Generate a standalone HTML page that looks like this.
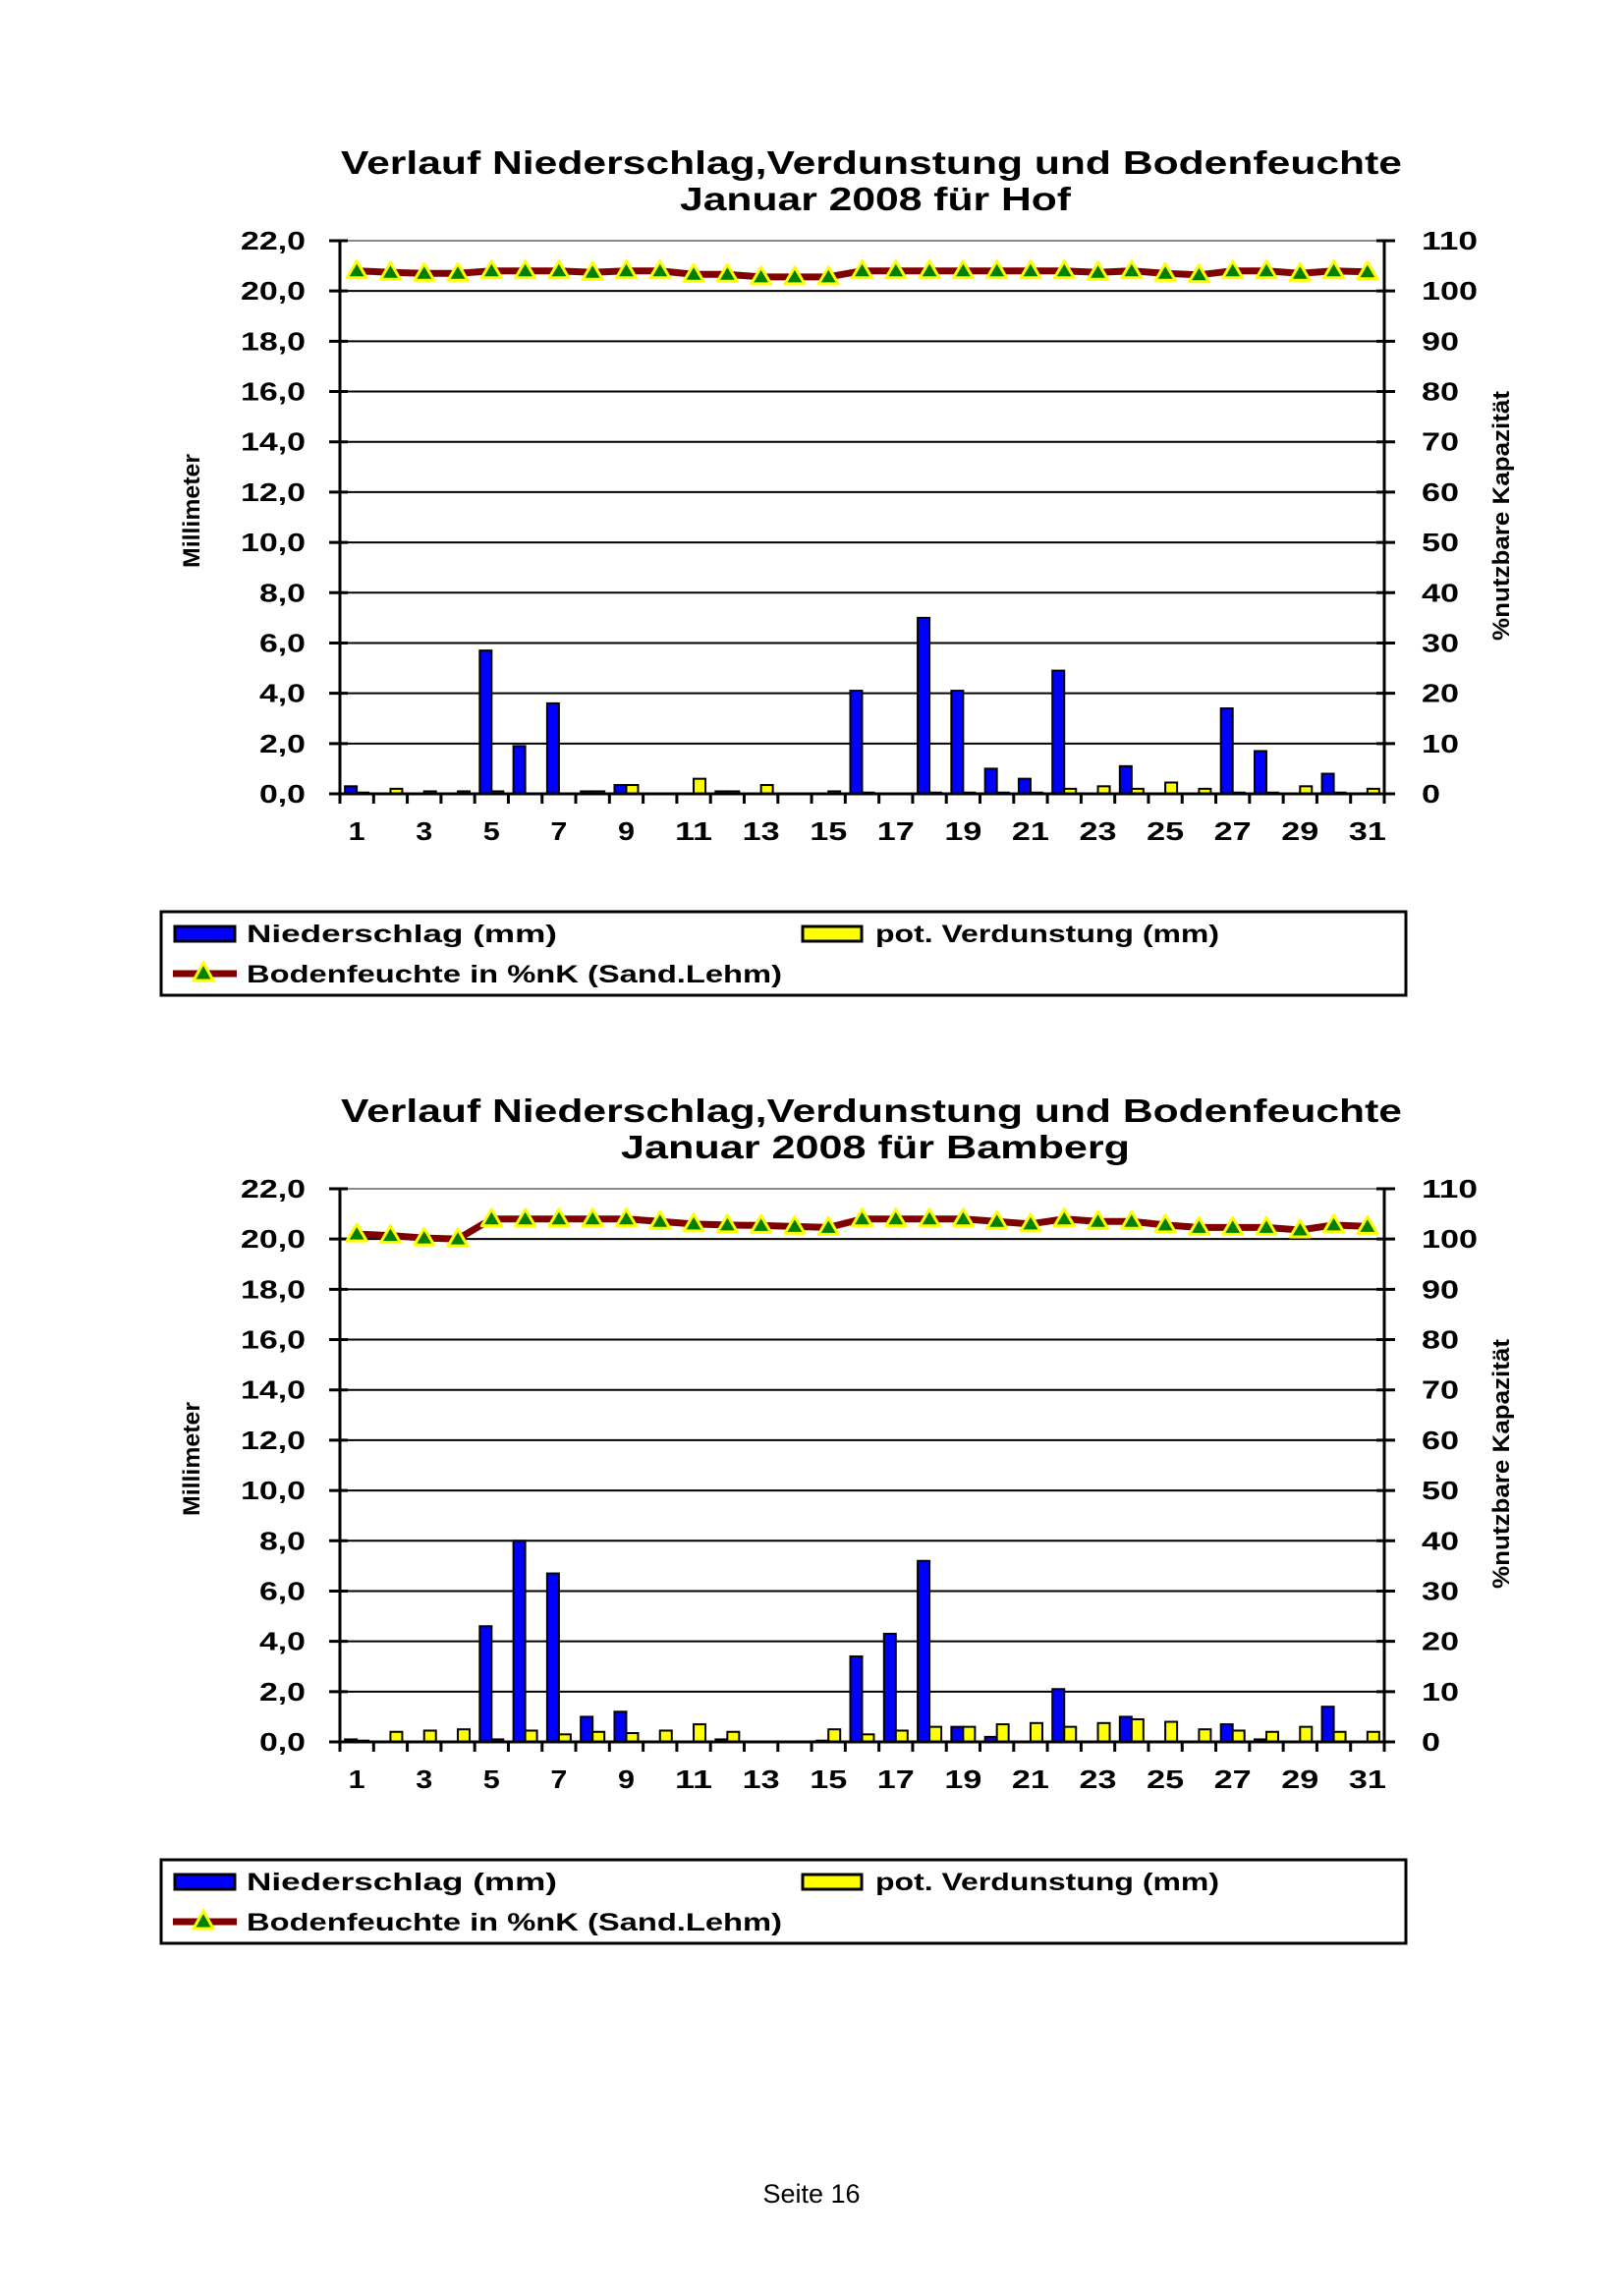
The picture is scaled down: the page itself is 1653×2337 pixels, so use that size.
<!DOCTYPE html>
<html><head><meta charset="utf-8"><style>
html,body{margin:0;padding:0;background:#fff;}
svg{display:block;}
text{font-family:"Liberation Sans",Arial,sans-serif;}
</style></head><body>
<svg id="s" width="1653" height="2337" xmlns="http://www.w3.org/2000/svg"></svg>
<script>
const S=document.getElementById('s');
let h='';
function chart(off,city,P,E,B,t2w){
  const L=346,R=1409,T=245+off,Bt=808+off;
  const H=Bt-T, cw=(R-L)/31;
  const yMM=v=>Bt-v/22*H, yP=v=>Bt-v/110*H;
  h+=`<text x="887" y="${177+off}" text-anchor="middle" font-size="33" font-weight="bold" textLength="1080" lengthAdjust="spacingAndGlyphs">Verlauf Niederschlag,Verdunstung und Bodenfeuchte</text>`;
  h+=`<text x="891" y="${214+off}" text-anchor="middle" font-size="33" font-weight="bold" textLength="${t2w}" lengthAdjust="spacingAndGlyphs">Januar 2008 für ${city}</text>`;
  h+=`<line x1="${L}" y1="${T}" x2="${R}" y2="${T}" stroke="#888" stroke-width="2"/>`;
  for(let i=0;i<=11;i++){
    const y=T+i*H/11;
    if(i>0&&i<11) h+=`<line x1="${L}" y1="${y}" x2="${R}" y2="${y}" stroke="#000" stroke-width="2"/>`;
    h+=`<line x1="${L-11}" y1="${y}" x2="${L+8}" y2="${y}" stroke="#000" stroke-width="3"/>`;
    h+=`<line x1="${R-8}" y1="${y}" x2="${R+11}" y2="${y}" stroke="#000" stroke-width="3"/>`;
    const v=(22-2*i).toFixed(1).replace('.',',');
    h+=`<text x="311" y="${y+9}" text-anchor="end" font-size="26" font-weight="bold" textLength="${v.length===4?66:47}" lengthAdjust="spacingAndGlyphs">${v}</text>`;
    const r=String(110-10*i);
    h+=`<text x="1447" y="${y+9}" font-size="26" font-weight="bold" textLength="${r.length*19}" lengthAdjust="spacingAndGlyphs">${r}</text>`;
  }
  h+=`<line x1="${L}" y1="${T}" x2="${L}" y2="${Bt}" stroke="#000" stroke-width="3"/>`;
  h+=`<line x1="${R}" y1="${T}" x2="${R}" y2="${Bt}" stroke="#000" stroke-width="3"/>`;
  for(let i=0;i<31;i++){
    const c=L+cw*(i+0.5);
    if(P[i]>0){const y=yMM(P[i]);h+=`<rect x="${c-12}" y="${y}" width="12" height="${Bt-y}" fill="#0000ff" stroke="#000" stroke-width="2"/>`;}
    if(E[i]>0){const y=yMM(E[i]);h+=`<rect x="${c}" y="${y}" width="12" height="${Bt-y}" fill="#ffff00" stroke="#000" stroke-width="2"/>`;}
  }
  h+=`<line x1="${L}" y1="${Bt}" x2="${R}" y2="${Bt}" stroke="#000" stroke-width="3"/>`;
  for(let i=0;i<=31;i++){const x=L+cw*i;h+=`<line x1="${x}" y1="${Bt}" x2="${x}" y2="${Bt+10}" stroke="#000" stroke-width="3"/>`;}
  for(let i=0;i<31;i+=2){const s=String(i+1);h+=`<text x="${L+cw*(i+0.5)}" y="${Bt+47}" text-anchor="middle" font-size="26" font-weight="bold" textLength="${s.length===1?17:38}" lengthAdjust="spacingAndGlyphs">${s}</text>`;}
  let pts=B.map((v,i)=>`${L+cw*(i+0.5)},${yP(v)}`).join(' ');
  h+=`<polyline points="${pts}" fill="none" stroke="#800000" stroke-width="7" stroke-linejoin="round"/>`;
  B.forEach((v,i)=>{const x=L+cw*(i+0.5),y=yP(v);
    h+=`<polygon points="${x},${y-10} ${x-10},${y+7} ${x+10},${y+7}" fill="#008000" stroke="#ffff00" stroke-width="3" stroke-linejoin="round"/>`;});
  h+=`<text transform="translate(203,${520+off}) rotate(-90)" text-anchor="middle" font-size="24" font-weight="bold" textLength="116" lengthAdjust="spacingAndGlyphs">Millimeter</text>`;
  h+=`<text transform="translate(1536,${525+off}) rotate(-90)" text-anchor="middle" font-size="24" font-weight="bold" textLength="254" lengthAdjust="spacingAndGlyphs">%nutzbare Kapazität</text>`;
  const ly=928+off;
  h+=`<rect x="164" y="${ly}" width="1267" height="85" fill="#fff" stroke="#000" stroke-width="3"/>`;
  h+=`<rect x="178" y="${ly+15}" width="61" height="15" fill="#0000ff" stroke="#000" stroke-width="3"/>`;
  h+=`<text x="251" y="${ly+31}" font-size="25" font-weight="bold" textLength="316" lengthAdjust="spacingAndGlyphs">Niederschlag (mm)</text>`;
  h+=`<rect x="817" y="${ly+15}" width="60" height="15" fill="#ffff00" stroke="#000" stroke-width="3"/>`;
  h+=`<text x="891" y="${ly+31}" font-size="25" font-weight="bold" textLength="350" lengthAdjust="spacingAndGlyphs">pot. Verdunstung (mm)</text>`;
  h+=`<line x1="176" y1="${ly+63}" x2="241" y2="${ly+63}" stroke="#800000" stroke-width="7"/>`;
  h+=`<polygon points="207,${ly+52} 197,${ly+70} 217,${ly+70}" fill="#008000" stroke="#ffff00" stroke-width="3"/>`;
  h+=`<text x="251" y="${ly+72}" font-size="25" font-weight="bold" textLength="545" lengthAdjust="spacingAndGlyphs">Bodenfeuchte in %nK (Sand.Lehm)</text>`;
}
chart(0,'Hof',
[0.3,0,0,0,5.7,1.9,3.6,0.1,0.35,0,0,0.1,0,0,0,4.1,0,7.0,4.1,1.0,0.6,4.9,0,1.1,0,0,3.4,1.7,0,0.8,0],
[0.05,0.2,0.1,0.1,0.1,0,0,0.1,0.35,0,0.6,0.1,0.35,0,0.1,0.05,0,0.05,0.05,0.05,0.05,0.2,0.3,0.2,0.45,0.2,0.05,0.05,0.3,0.05,0.2],
[104,103.7,103.5,103.5,104,104,104,103.7,104,104,103.3,103.3,102.8,102.8,102.8,104,104,104,104,104,104,104,103.7,104,103.5,103.2,104,104,103.5,104,103.8],398);
chart(965,'Bamberg',
[0.1,0,0,0,4.6,8.0,6.7,1.0,1.2,0,0,0.1,0,0,0.05,3.4,4.3,7.2,0.6,0.2,0,2.1,0,1.0,0,0,0.7,0.1,0,1.4,0],
[0.05,0.4,0.45,0.5,0.1,0.45,0.3,0.4,0.35,0.45,0.7,0.4,0,0,0.5,0.3,0.45,0.6,0.6,0.7,0.75,0.6,0.75,0.9,0.8,0.5,0.45,0.4,0.6,0.4,0.4],
[101,100.7,100.2,100,104,104,104,104,104,103.5,103,102.8,102.7,102.5,102.3,104,104,104,104,103.5,103,104,103.5,103.5,102.8,102.3,102.3,102.3,101.8,102.8,102.5],518);
h+=`<text x="826" y="2242" text-anchor="middle" font-size="27">Seite 16</text>`;
S.innerHTML=h;
</script>
</body></html>
